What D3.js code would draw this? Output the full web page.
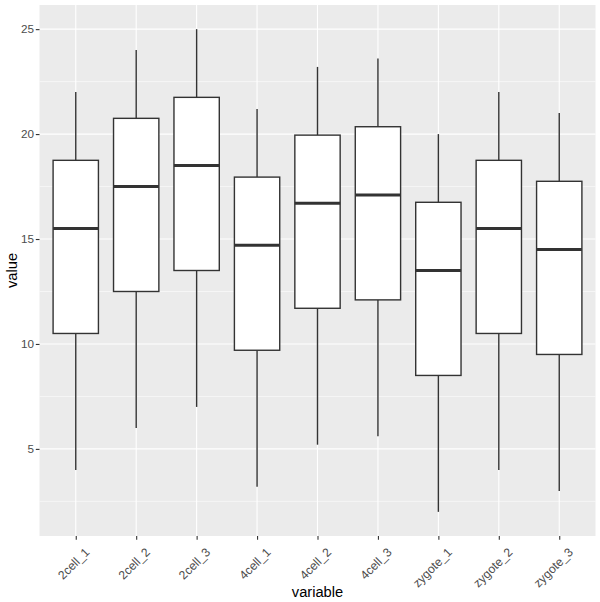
<!DOCTYPE html>
<html>
<head>
<meta charset="utf-8">
<script src="https://cdn.jsdelivr.net/npm/d3@7"></script>
<style>
  body { margin: 0; background: #fff; }
  text { font-family: "Liberation Sans", Arial, sans-serif; }
</style>
</head>
<body>
<div id="chart"></div>
<script>

// box stats
var categories = ["2cell_1", "2cell_2", "2cell_3", "4cell_1", "4cell_2", "4cell_3", "zygote_1", "zygote_2", "zygote_3"];
var lowerWhisker = [4, 6, 7, 3.2, 5.2, 5.6, 2, 4, 3];
var q1Values     = [10.5, 12.5, 13.5, 9.7, 11.7, 12.1, 8.5, 10.5, 9.5];
var medians      = [15.5, 17.5, 18.5, 14.7, 16.7, 17.1, 13.5, 15.5, 14.5];
var q3Values     = [18.75, 20.75, 21.75, 17.95, 19.95, 20.35, 16.75, 18.75, 17.75];
var upperWhisker = [22, 24, 25, 21.2, 23.2, 23.6, 20, 22, 21];
var yTicks = [5, 10, 15, 20, 25];
var yMinor = [2.5, 7.5, 12.5, 17.5, 22.5];

var boxes = categories.map(function(c, i) {
  return {name: c, lo: lowerWhisker[i], q1: q1Values[i], med: medians[i], q3: q3Values[i], hi: upperWhisker[i]};
});

var W = 600, H = 602;
var margin = {top: 5, right: 4.5, bottom: 66, left: 39.5},
    width = W - margin.left - margin.right,
    height = H - margin.top - margin.bottom;

var svg = d3.select("#chart").append("svg")
    .attr("width", W)
    .attr("height", H);

var g = svg.append("g")
    .attr("transform", "translate(" + margin.left + "," + margin.top + ")");

// discrete x like ggplot: 0.6 expansion each side
var x = d3.scalePoint()
    .domain(categories)
    .range([0, width])
    .padding(0.6);
var step = x.step();
var boxW = step * 0.75;

// continuous y with 5% expansion
var lo = d3.min(lowerWhisker), hi = d3.max(upperWhisker);
var pad = (hi - lo) * 0.05;
var y = d3.scaleLinear().domain([lo - pad, hi + pad]).range([height, 0]);

// panel
g.append("rect")
    .attr("width", width)
    .attr("height", height)
    .attr("fill", "#EBEBEB");

// minor grid
g.selectAll(".minor").data(yMinor).enter()
  .append("line")
    .attr("x1", 0).attr("x2", width)
    .attr("y1", function(d) { return y(d); })
    .attr("y2", function(d) { return y(d); })
    .attr("stroke", "#fff")
    .attr("stroke-width", 0.55);

// major grid
g.selectAll(".majY").data(yTicks).enter()
  .append("line")
    .attr("x1", 0).attr("x2", width)
    .attr("y1", function(d) { return y(d); })
    .attr("y2", function(d) { return y(d); })
    .attr("stroke", "#fff")
    .attr("stroke-width", 1.1);

g.selectAll(".majX").data(categories).enter()
  .append("line")
    .attr("y1", 0).attr("y2", height)
    .attr("x1", function(d) { return x(d); })
    .attr("x2", function(d) { return x(d); })
    .attr("stroke", "#fff")
    .attr("stroke-width", 1.1);

// boxes
var bx = g.selectAll(".box").data(boxes).enter()
  .append("g");

bx.append("line")
    .attr("x1", function(d) { return x(d.name); })
    .attr("x2", function(d) { return x(d.name); })
    .attr("y1", function(d) { return y(d.hi); })
    .attr("y2", function(d) { return y(d.q3); })
    .attr("stroke", "#333333")
    .attr("stroke-width", 1.4);

bx.append("line")
    .attr("x1", function(d) { return x(d.name); })
    .attr("x2", function(d) { return x(d.name); })
    .attr("y1", function(d) { return y(d.q1); })
    .attr("y2", function(d) { return y(d.lo); })
    .attr("stroke", "#333333")
    .attr("stroke-width", 1.4);

bx.append("rect")
    .attr("x", function(d) { return x(d.name) - boxW / 2; })
    .attr("width", boxW)
    .attr("y", function(d) { return y(d.q3); })
    .attr("height", function(d) { return y(d.q1) - y(d.q3); })
    .attr("fill", "#fff")
    .attr("stroke", "#333333")
    .attr("stroke-width", 1.4);

bx.append("line")
    .attr("x1", function(d) { return x(d.name) - boxW / 2; })
    .attr("x2", function(d) { return x(d.name) + boxW / 2; })
    .attr("y1", function(d) { return y(d.med); })
    .attr("y2", function(d) { return y(d.med); })
    .attr("stroke", "#333333")
    .attr("stroke-width", 3);

// axes
var yAxis = g.append("g")
    .call(d3.axisLeft(y).tickValues(yTicks).tickSize(3.7).tickPadding(1.8));
var xAxis = g.append("g")
    .attr("transform", "translate(0," + height + ")")
    .call(d3.axisBottom(x).tickSize(3.7));

[yAxis, xAxis].forEach(function(a) {
  a.select(".domain").remove();
  a.selectAll(".tick line").attr("stroke", "#333333").attr("stroke-width", 1.1);
  a.selectAll(".tick text")
    .attr("fill", "#4D4D4D")
    .style("font-size", "11.7px")
    .style("font-family", "Liberation Sans, Arial, sans-serif");
});

xAxis.selectAll(".tick text")
    .style("font-size", "12.2px")
    .attr("text-anchor", "end")
    .attr("x", 0).attr("y", 0)
    .attr("dy", "0.35em")
    .attr("transform", "translate(11,14) rotate(-45)");

// axis titles
svg.append("text")
    .attr("x", margin.left + width / 2)
    .attr("y", 597)
    .attr("text-anchor", "middle")
    .style("font-size", "14.7px")
    .text("variable");

svg.append("text")
    .attr("transform", "rotate(-90)")
    .attr("x", -(margin.top + height / 2))
    .attr("y", 17)
    .attr("text-anchor", "middle")
    .style("font-size", "14.7px")
    .text("value");

</script>
</body>
</html>
